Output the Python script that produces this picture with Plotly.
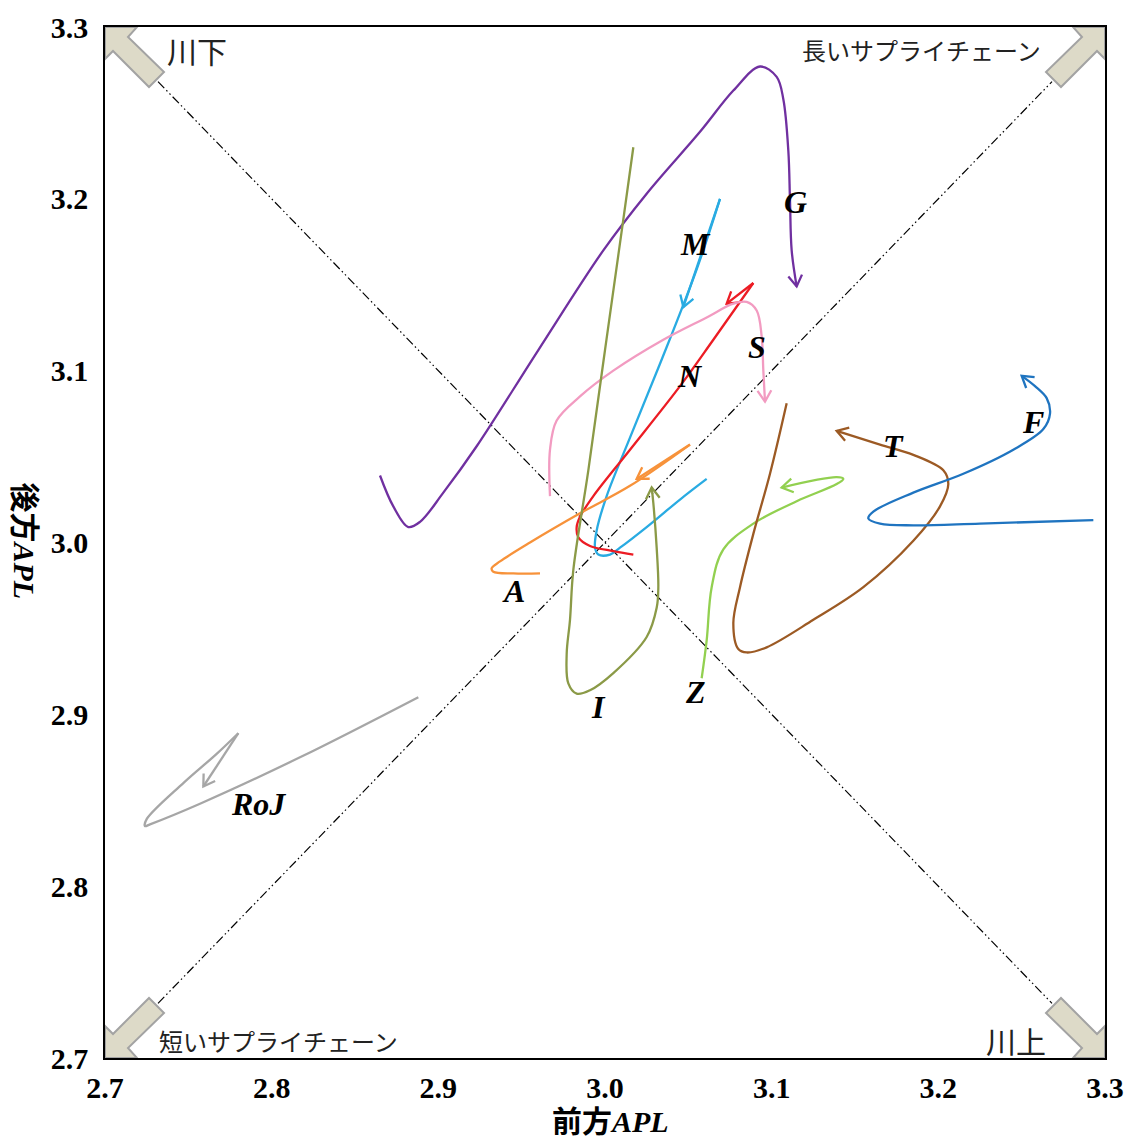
import math
import plotly.graph_objects as go

# ---------------- data (前方APL, 後方APL) ----------------
G_x = [2.865, 2.873, 2.882, 2.889, 2.903, 2.923, 2.960, 2.999, 3.025, 3.057, 3.077, 3.093,
       3.103, 3.107, 3.110, 3.111, 3.112, 3.115]
G_y = [3.039, 3.021, 3.009, 3.012, 3.029, 3.056, 3.112, 3.170, 3.203, 3.239, 3.263, 3.277,
       3.271, 3.258, 3.228, 3.199, 3.170, 3.149]

M_x = [3.061, 3.045, 3.025, 3.009, 3.003, 2.996, 2.994, 2.995, 3.001, 3.015, 3.033, 3.055, 3.069, 3.047]
M_y = [3.037, 3.025, 3.009, 2.997, 2.993, 2.993, 2.997, 3.007, 3.027, 3.061, 3.104, 3.159, 3.200, 3.137]

N_x = [3.017, 3.005, 2.991, 2.984, 2.983, 2.985, 2.993, 3.015, 3.045, 3.065, 3.089, 3.073]
N_y = [2.993, 2.995, 2.998, 3.003, 3.009, 3.015, 3.027, 3.054, 3.091, 3.118, 3.151, 3.139]

S_x = [2.967, 2.967, 2.971, 2.985, 3.005, 3.035, 3.061, 3.077, 3.085, 3.091, 3.094, 3.095, 3.096]
S_y = [3.027, 3.054, 3.071, 3.085, 3.100, 3.118, 3.131, 3.139, 3.140, 3.135, 3.120, 3.100, 3.082]

A_x = [2.961, 2.945, 2.933, 2.932, 2.937, 2.955, 2.985, 3.015, 3.051, 3.019]
A_y = [2.982, 2.982, 2.983, 2.985, 2.989, 3.000, 3.017, 3.033, 3.057, 3.037]

I_x = [3.017, 3.011, 3.000, 2.990, 2.981, 2.979, 2.977, 2.978, 2.983, 2.991, 3.005, 3.025,
       3.031, 3.032, 3.031, 3.029, 3.028]
I_y = [3.230, 3.188, 3.112, 3.042, 2.984, 2.955, 2.935, 2.918, 2.912, 2.914, 2.924, 2.945,
       2.962, 2.974, 2.997, 3.023, 3.032]

Z_x = [3.058, 3.061, 3.064, 3.071, 3.089, 3.115, 3.139, 3.143, 3.139, 3.106]
Z_y = [2.921, 2.943, 2.974, 2.996, 3.011, 3.024, 3.034, 3.037, 3.038, 3.032]

T_x = [3.109, 3.099, 3.089, 3.081, 3.077, 3.080, 3.085, 3.097, 3.125, 3.155, 3.185, 3.201,
       3.206, 3.203, 3.185, 3.165, 3.139]
T_y = [3.081, 3.040, 3.005, 2.974, 2.953, 2.938, 2.936, 2.939, 2.955, 2.974, 3.001, 3.021,
       3.034, 3.042, 3.051, 3.057, 3.065]

F_x = [3.293, 3.225, 3.185, 3.165, 3.158, 3.161, 3.185, 3.215, 3.245, 3.263, 3.267, 3.265, 3.258, 3.250]
F_y = [3.013, 3.011, 3.010, 3.011, 3.014, 3.018, 3.029, 3.040, 3.054, 3.066, 3.075, 3.084, 3.091, 3.097]

RoJ_x = [2.888, 2.817, 2.757, 2.727, 2.724, 2.725, 2.747, 2.767, 2.780, 2.759]
RoJ_y = [2.910, 2.875, 2.848, 2.836, 2.835, 2.839, 2.860, 2.877, 2.889, 2.858]

series_names = ["G", "M", "N", "S", "A", "I", "Z", "T", "F", "RoJ"]
series_x = [G_x, M_x, N_x, S_x, A_x, I_x, Z_x, T_x, F_x, RoJ_x]
series_y = [G_y, M_y, N_y, S_y, A_y, I_y, Z_y, T_y, F_y, RoJ_y]

# label anchor values (data units)
label_x = [3.114, 3.054, 3.051, 3.091, 2.945, 2.996, 3.054, 3.173, 3.257, 2.792]
label_y = [3.198, 3.174, 3.097, 3.114, 2.972, 2.904, 2.913, 3.056, 3.070, 2.848]

x_ticks = [2.7, 2.8, 2.9, 3.0, 3.1, 3.2, 3.3]
y_ticks = [2.7, 2.8, 2.9, 3.0, 3.1, 3.2, 3.3]

corner_texts = ["川下", "長いサプライチェーン", "短いサプライチェーン", "川上"]
x_title = "前方<i>APL</i>"
y_title = "後方<i>APL</i>"

# ---------------- styles ----------------
COLORS = {"G": "#7030A0", "M": "#29ABE2", "N": "#EC1C24", "S": "#F29BC1", "A": "#F7923A",
          "I": "#8B9A47", "Z": "#92D050", "T": "#9C5A24", "F": "#1F74C0", "RoJ": "#A6A6A6"}
SHARP_END = {"M", "N", "A", "RoJ"}
LW = 2.3

W, H = 1126, 1142
ML, MR, MT, MB = 105, 21, 27, 84
PW, PH = W - ML - MR, H - MT - MB
X0, X1, Y0, Y1 = x_ticks[0], x_ticks[-1], y_ticks[0], y_ticks[-1]


def to_px(x, y):
    return ((x - X0) / (X1 - X0) * PW, (Y1 - y) / (Y1 - Y0) * PH)


def to_data(px, py):
    return (X0 + px / PW * (X1 - X0), Y1 - py / PH * (Y1 - Y0))


def arrowhead(xs, ys, length=13, half_deg=32):
    ax, ay = to_px(xs[-2], ys[-2])
    bx, by = to_px(xs[-1], ys[-1])
    dx, dy = bx - ax, by - ay
    n = math.hypot(dx, dy)
    dx, dy = dx / n, dy / n
    wings = []
    for s in (1, -1):
        a = math.radians(half_deg) * s
        rx = -dx * math.cos(a) + dy * math.sin(a)
        ry = -dx * math.sin(a) - dy * math.cos(a)
        wings.append(to_data(bx + length * rx, by + length * ry))
    return [wings[0][0], xs[-1], wings[1][0]], [wings[0][1], ys[-1], wings[1][1]]


fig = go.Figure()

for name, xs, ys in zip(series_names, series_x, series_y):
    c = COLORS[name]
    if name in SHARP_END:
        fig.add_trace(go.Scatter(x=xs[:-1], y=ys[:-1], mode="lines",
                                 line=dict(color=c, width=LW, shape="spline", smoothing=1.0),
                                 hoverinfo="skip", showlegend=False))
        fig.add_trace(go.Scatter(x=xs[-2:], y=ys[-2:], mode="lines",
                                 line=dict(color=c, width=LW),
                                 hoverinfo="skip", showlegend=False))
    else:
        fig.add_trace(go.Scatter(x=xs, y=ys, mode="lines",
                                 line=dict(color=c, width=LW, shape="spline", smoothing=1.0),
                                 hoverinfo="skip", showlegend=False))
    hx, hy = arrowhead(xs, ys)
    fig.add_trace(go.Scatter(x=hx, y=hy, mode="lines",
                             line=dict(color=c, width=LW),
                             hoverinfo="skip", showlegend=False))

# series labels
for name, lx, ly in zip(series_names, label_x, label_y):
    fig.add_annotation(x=lx, y=ly, text=name, showarrow=False,
                       font=dict(family="Liberation Serif", size=32, color="black",
                                 weight="bold", style="italic"))

# diagonal dash-dot reference lines (trimmed by the corner arrows)
inset = 53
p_tl = to_data(inset, inset * PH / PW)
p_br = to_data(PW - inset, PH - inset * PH / PW)
p_bl = to_data(inset, PH - inset * PH / PW)
p_tr = to_data(PW - inset, inset * PH / PW)
for a, b in [(p_tl, p_br), (p_bl, p_tr)]:
    fig.add_shape(type="line", x0=a[0], y0=a[1], x1=b[0], y1=b[1], xref="x", yref="y",
                  line=dict(color="black", width=1.2, dash="9px,3px,1.5px,3px,1.5px,3px"),
                  layer="below")

# corner block arrows
template = [(0, 0), (32, 0), (23, 10), (59, 45), (44, 60), (8, 24), (0, 32)]
corners = [(0, 0, 1, 1), (PW, 0, -1, 1), (0, PH, 1, -1), (PW, PH, -1, -1)]
for cx, cy, sx, sy in corners:
    pts = [to_data(cx + sx * u, cy + sy * v) for u, v in template]
    path = "M " + " L ".join(f"{p[0]:.5f},{p[1]:.5f}" for p in pts) + " Z"
    fig.add_shape(type="path", path=path, xref="x", yref="y",
                  fillcolor="#DDDAC8", line=dict(color="#A3A3A3", width=2), layer="above")

# corner texts
corner_font_small = dict(family="Noto Sans CJK JP", size=24, color="#222222")
corner_font_big = dict(family="Noto Sans CJK JP", size=30, color="#222222")
fig.add_annotation(x=60 / PW, y=1 - 23 / PH, xref="paper", yref="paper", text=corner_texts[0],
                   showarrow=False, xanchor="left", yanchor="middle", font=corner_font_big)
fig.add_annotation(x=(PW - 62) / PW, y=1 - 23 / PH, xref="paper", yref="paper", text=corner_texts[1],
                   showarrow=False, xanchor="right", yanchor="middle", font=corner_font_small)
fig.add_annotation(x=52 / PW, y=18 / PH, xref="paper", yref="paper", text=corner_texts[2],
                   showarrow=False, xanchor="left", yanchor="middle", font=corner_font_small)
fig.add_annotation(x=(PW - 57) / PW, y=18 / PH, xref="paper", yref="paper", text=corner_texts[3],
                   showarrow=False, xanchor="right", yanchor="middle", font=corner_font_big)

# axis titles
title_font = dict(family="Liberation Serif, Noto Sans CJK JP", size=30, color="black", weight="bold")
fig.add_annotation(x=0.505, y=-63 / PH, xref="paper", yref="paper", text=x_title,
                   showarrow=False, xanchor="center", yanchor="middle", font=title_font)
fig.add_annotation(x=-80 / PW, y=0.502, xref="paper", yref="paper", text=y_title,
                   showarrow=False, xanchor="center", yanchor="middle", textangle=90, font=title_font)

tick_font = dict(family="Liberation Serif", size=30, color="black", weight="bold")
fig.update_xaxes(range=[X0, X1], tickvals=x_ticks, ticktext=[f"{v:.1f}" for v in x_ticks],
                 showgrid=False, zeroline=False, showline=True, mirror=True,
                 linecolor="black", linewidth=1.5, ticks="", tickfont=tick_font,
                 ticklabelstandoff=2, automargin=False)
fig.update_yaxes(range=[Y0, Y1], tickvals=y_ticks, ticktext=[f"{v:.1f}" for v in y_ticks],
                 showgrid=False, zeroline=False, showline=True, mirror=True,
                 linecolor="black", linewidth=1.5, ticks="", tickfont=tick_font,
                 ticklabelstandoff=9, automargin=False)

fig.update_layout(width=W, height=H, margin=dict(l=ML, r=MR, t=MT, b=MB),
                  plot_bgcolor="white", paper_bgcolor="white", showlegend=False)

fig.write_html("out.html")
